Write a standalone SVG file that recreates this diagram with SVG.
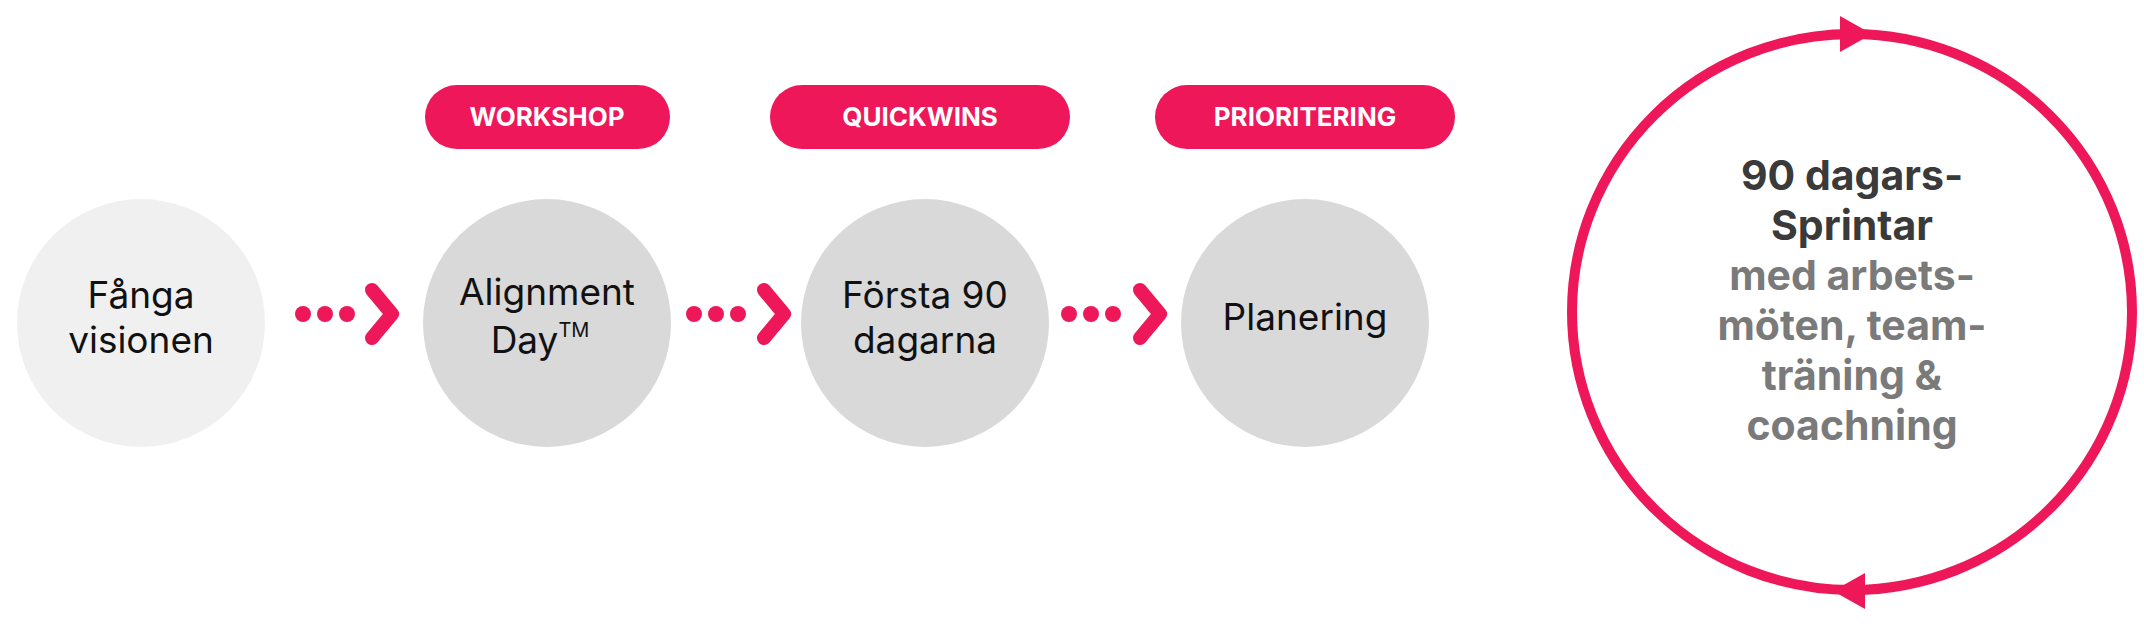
<svg xmlns="http://www.w3.org/2000/svg" width="2144" height="636" viewBox="0 0 2144 636">
<style>
.n{font-family:Inter,"Liberation Sans",sans-serif;font-size:37px;fill:#111;text-anchor:middle}
.p{font-family:Inter,"Liberation Sans",sans-serif;font-size:26px;font-weight:700;fill:#fff;text-anchor:middle}
.pill{fill:#ee1759}
.dot{fill:#ee1759}
.chev{fill:none;stroke:#ee1759;stroke-width:14;stroke-linecap:round;stroke-linejoin:round}
.b{font-family:Inter,"Liberation Sans",sans-serif;font-size:41px;font-weight:700;text-anchor:middle}
</style>
<rect width="2144" height="636" fill="#fff"/>
<g id="pill-workshop"><rect class="pill" x="425" y="85" width="245" height="64" rx="32"/><text class="p" x="547" y="126">WORKSHOP</text></g>
<g id="pill-quickwins"><rect class="pill" x="770" y="85" width="300" height="64" rx="32"/><text class="p" x="920" y="126">QUICKWINS</text></g>
<g id="pill-prioritering"><rect class="pill" x="1155" y="85" width="300" height="64" rx="32"/><text class="p" x="1305" y="126">PRIORITERING</text></g>
<g id="node-fanga"><circle cx="141" cy="323" r="124" fill="#f0f0f0"/><text class="n" x="141" y="308">Fånga</text><text class="n" x="141" y="353">visionen</text></g>
<g id="node-alignment"><circle cx="547" cy="323" r="124" fill="#d9d9d9"/><text class="n" x="547" y="305">Alignment</text><text class="n" x="540" y="353">Day<tspan font-size="20" dy="-16">TM</tspan></text></g>
<g id="node-forsta"><circle cx="925" cy="323" r="124" fill="#d9d9d9"/><text class="n" x="925" y="308">Första 90</text><text class="n" x="925" y="353">dagarna</text></g>
<g id="node-planering"><circle cx="1305" cy="323" r="124" fill="#d9d9d9"/><text class="n" x="1305" y="330">Planering</text></g>
<g id="node-sprint">
<ellipse cx="1852" cy="312" rx="280" ry="278" fill="none" stroke="#ee1759" stroke-width="10"/>
<polygon points="1840,16 1872,34 1840,52" fill="#ee1759"/>
<polygon points="1865,573 1833,591 1865,609" fill="#ee1759"/>
<text class="b" x="1852" y="190" fill="#3a3a3a">90 dagars-</text>
<text class="b" x="1852" y="240" fill="#3a3a3a">Sprintar</text>
<text class="b" x="1852" y="290" fill="#7a7a7a">med arbets-</text>
<text class="b" x="1852" y="340" fill="#7a7a7a">möten, team-</text>
<text class="b" x="1852" y="390" fill="#7a7a7a">träning &amp;</text>
<text class="b" x="1852" y="440" fill="#7a7a7a">coachning</text>
</g>
<g id="connectors">
<circle class="dot" cx="303" cy="314" r="8"/><circle class="dot" cx="325" cy="314" r="8"/><circle class="dot" cx="347" cy="314" r="8"/><polyline class="chev" points="372,290 392,314 372,338"/>
<circle class="dot" cx="694" cy="314" r="8"/><circle class="dot" cx="716" cy="314" r="8"/><circle class="dot" cx="738" cy="314" r="8"/><polyline class="chev" points="764,290 784,314 764,338"/>
<circle class="dot" cx="1069" cy="314" r="8"/><circle class="dot" cx="1091" cy="314" r="8"/><circle class="dot" cx="1113" cy="314" r="8"/><polyline class="chev" points="1140,290 1160,314 1140,338"/>
</g>
</svg>
